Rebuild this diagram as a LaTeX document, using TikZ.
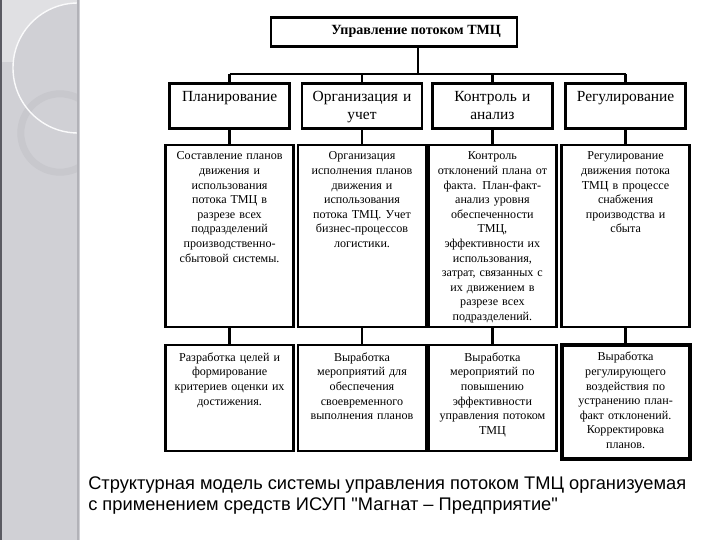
\documentclass[tikz,border=0pt]{standalone}
\usepackage{fontspec}
\setmainfont{Liberation Serif}
\newfontfamily\capfont{Liberation Sans}
\usepackage{tikz}
\usetikzlibrary{positioning, calc}
\definecolor{stripGray}{HTML}{D0D0D5}
\definecolor{stripLight}{HTML}{E0E0E3}
\definecolor{stripRing}{HTML}{C8C8CD}
\definecolor{stripDark}{HTML}{5A5A62}
\definecolor{stripEdge}{HTML}{B2B2B8}

\begin{document}
\begin{tikzpicture}[
  link/.style={line width=1.6pt, draw=black},
  headbox/.style={draw=black, line width=2pt, fill=white, minimum width=6.15cm, minimum height=0.725cm,
    font=\fontsize{10}{12}\selectfont\bfseries},
  funcbox/.style={draw=black, line width=2pt, fill=white, minimum width=3.0cm, minimum height=1.125cm},
  cellbox/.style={draw=black, line width=2pt, fill=white, minimum width=3.2cm},
  functext/.style={align=center, text width=2.9cm, inner sep=0pt, font=\fontsize{11}{12.8}\selectfont},
  celltext/.style={align=center, text width=3.05cm, inner sep=0pt, font=\fontsize{8.6}{10.4}\selectfont}
]
  \fill[white] (0,0) rectangle (18,13.5);
  \useasboundingbox (0,0) rectangle (18,13.5);

  % Slide strip
  \fill[stripGray] (0,0) rectangle (2.0,13.5);
  \begin{scope}
    \clip (0,0) rectangle (1.95,13.5);
    \fill[stripLight] (0,11.95) rectangle (2.0,13.5);
    \fill[stripGray] (1.95,11.8) circle (1.625);
    \draw[stripRing, line width=5pt] (1.5,10.175) circle (0.98);
    \draw[white!90!stripGray, line width=1pt] (1.95,11.8) circle (1.625);
  \end{scope}
  \draw[stripEdge, line width=1.5pt] (1.96,0) -- (1.96,13.5);
  \draw[stripDark, line width=1.5pt] (0.02,0) -- (0.02,13.5);

  % Top
  \node[headbox] (head) at (9.85,12.71) {\hspace*{1.1cm}Управление потоком ТМЦ};

  % Functions
  \node[funcbox] (fn1) at (5.74,10.84) {};
  \node[funcbox] (fn2) at (9.05,10.84) {};
  \node[funcbox] (fn3) at (12.31,10.84) {};
  \node[funcbox] (fn4) at (15.64,10.84) {};
  \node[functext, below=0.22cm of fn1.north] (fn1t) {Планирование};
  \node[functext, below=0.22cm of fn2.north] (fn2t) {Организация и\\учет};
  \node[functext, below=0.22cm of fn3.north] (fn3t) {Контроль и\\анализ};
  \node[functext, below=0.22cm of fn4.north] (fn4t) {Регулирование};

  \coordinate (bus) at (9.0,11.65);
  \draw[link] ([xshift=0.6cm]head.south) -- ([xshift=0.6cm]head.south |- bus);
  \draw[link] (fn1.north |- bus) -- (fn4.north |- bus);
  \foreach \i in {1,...,4} {
    \draw[link] (fn\i.north |- bus) -- (fn\i.north);
  }

  % Descriptions
  \node[cellbox, minimum height=4.55cm] (dsc1) at (5.74,7.6) {};
  \node[cellbox, minimum height=4.55cm] (dsc2) at (9.05,7.6) {};
  \node[cellbox, minimum height=4.55cm] (dsc3) at (12.31,7.6) {};
  \node[cellbox, minimum height=4.55cm] (dsc4) at (15.64,7.6) {};
  \node[celltext, below=0.2cm of dsc1.north] (dsc1t)
    {Составление планов\\движения и\\использования\\потока ТМЦ в\\разрезе всех\\подразделений\\производственно-\\сбытовой системы.};
  \node[celltext, below=0.2cm of dsc2.north] (dsc2t)
    {Организация\\исполнения планов\\движения и\\использования\\потока ТМЦ. Учет\\бизнес-процессов\\логистики.};
  \node[celltext, below=0.2cm of dsc3.north] (dsc3t)
    {Контроль\\отклонений плана от\\факта. План-факт-\\анализ уровня\\обеспеченности\\ТМЦ,\\эффективности их\\использования,\\затрат, связанных с\\их движением в\\разрезе всех\\подразделений.};
  \node[celltext, below=0.2cm of dsc4.north] (dsc4t)
    {Регулирование\\движения потока\\ТМЦ в процессе\\снабжения\\производства и\\сбыта};

  % Actions
  \node[cellbox, minimum height=2.65cm] (act1) at (5.74,3.55) {};
  \node[cellbox, minimum height=2.65cm] (act2) at (9.05,3.55) {};
  \node[cellbox, minimum height=2.65cm] (act3) at (12.31,3.55) {};
  \node[cellbox, line width=2.8pt, minimum height=2.85cm] (act4) at (15.64,3.45) {};
  \node[celltext, below=0.22cm of act1.north] (act1t)
    {Разработка целей и\\формирование\\критериев оценки их\\достижения.};
  \node[celltext, below=0.22cm of act2.north] (act2t)
    {Выработка\\мероприятий для\\обеспечения\\своевременного\\выполнения планов};
  \node[celltext, below=0.22cm of act3.north] (act3t)
    {Выработка\\мероприятий по\\повышению\\эффективности\\управления потоком\\ТМЦ};
  \node[celltext, below=0.22cm of act4.north] (act4t)
    {Выработка\\регулирующего\\воздействия по\\устранению план-\\факт отклонений.\\Корректировка\\планов.};

  \foreach \i in {1,...,4} {
    \draw[link] (fn\i.south) -- (dsc\i.north);
    \draw[link] (dsc\i.south) -- (act\i.north);
  }

  \node[anchor=north west, align=left, inner sep=0pt, font=\capfont\fontsize{13}{15}\selectfont] (caption) at (2.2,1.6)
    {Структурная модель системы управления потоком ТМЦ организуемая\\с применением средств ИСУП "Магнат – Предприятие"};
\end{tikzpicture}
\end{document}
